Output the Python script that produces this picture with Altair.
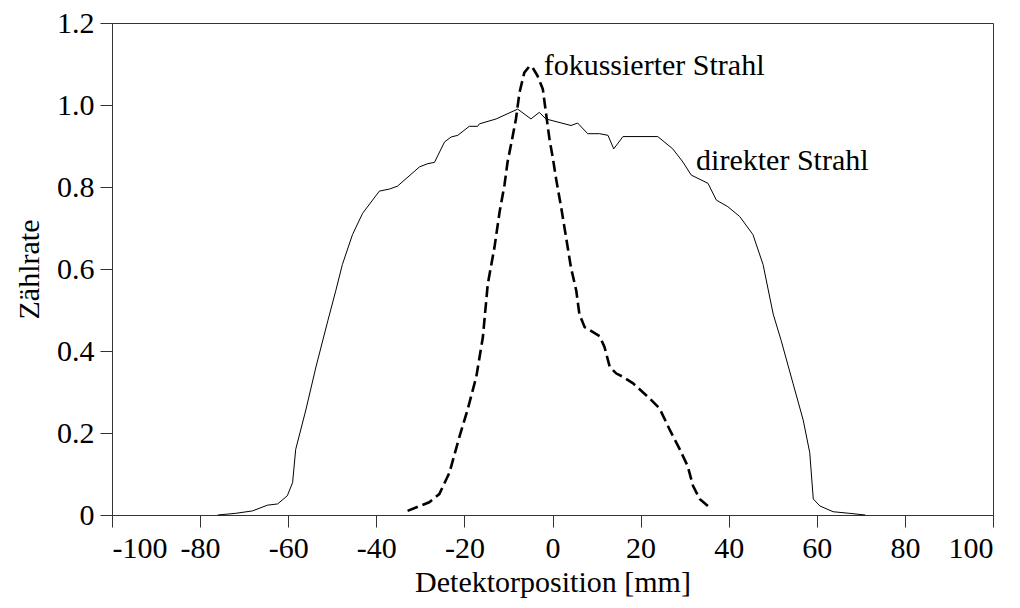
import altair as alt
import pandas as pd

# Direct beam profile (solid line)
direct_x = [-76.0, -72.0, -68.1, -64.7, -62.4, -60.2, -59.0, -58.3, -56.0, -53.7,
            -51.0, -49.2, -47.7, -45.4, -43.1, -39.3, -37.0, -35.2, -30.2, -28.3,
            -26.8, -24.5, -23.0, -21.5, -18.9, -17.0, -16.6, -12.8, -7.9, -4.9,
            -3.0, -1.5, 4.2, 5.7, 8.0, 10.7, 12.6, 13.9, 16.0, 23.9,
            27.3, 29.6, 31.5, 35.3, 37.2, 39.8, 42.5, 45.5, 47.8, 50.1,
            51.9, 54.6, 56.9, 58.4, 59.2, 60.7, 63.7, 67.5, 71.0]
direct_y = [0.000, 0.004, 0.010, 0.024, 0.027, 0.047, 0.079, 0.160, 0.256, 0.361,
            0.474, 0.547, 0.611, 0.684, 0.736, 0.790, 0.795, 0.802, 0.849, 0.857,
            0.860, 0.910, 0.922, 0.926, 0.948, 0.948, 0.954, 0.966, 0.990, 0.966,
            0.982, 0.966, 0.950, 0.956, 0.930, 0.930, 0.926, 0.893, 0.923, 0.923,
            0.893, 0.861, 0.829, 0.809, 0.768, 0.752, 0.728, 0.684, 0.611, 0.490,
            0.426, 0.321, 0.232, 0.152, 0.039, 0.022, 0.008, 0.004, 0.000]

# Focused beam profile (dashed line)
focus_x = [-32.9, -28.0, -25.7, -23.4, -21.1, -19.3, -17.3, -15.8, -14.7, -13.2,
           -12.0, -10.9, -10.2, -9.0, -8.3, -7.5, -6.4, -5.2, -4.5, -3.4,
           -2.2, -1.5, -0.7, 0.1, 0.8, 2.0, 3.1, 4.2, 5.4, 6.1,
           7.3, 9.2, 10.7, 11.8, 13.0, 14.5, 16.0, 18.3, 22.0, 24.3,
           26.6, 28.9, 30.7, 31.9, 33.4, 36.0]
focus_y = [0.010, 0.031, 0.051, 0.103, 0.192, 0.256, 0.337, 0.434, 0.563, 0.651,
           0.740, 0.805, 0.861, 0.926, 0.966, 1.030, 1.079, 1.095, 1.091, 1.071,
           1.039, 0.982, 0.918, 0.869, 0.821, 0.748, 0.676, 0.603, 0.547, 0.490,
           0.458, 0.446, 0.436, 0.410, 0.361, 0.345, 0.337, 0.321, 0.285, 0.260,
           0.208, 0.160, 0.119, 0.071, 0.039, 0.015]

label_text = ["fokussierter Strahl", "direkter Strahl"]
label_x = [-2.0, 32.6]
label_y = [1.074, 0.842]

x_ticks = [-100, -80, -60, -40, -20, 0, 20, 40, 60, 80, 100]
y_ticks = [0, 0.2, 0.4, 0.6, 0.8, 1.0, 1.2]

FONT = "'Liberation Serif', 'Times New Roman', 'DejaVu Serif', serif"

direct = pd.DataFrame({"x": direct_x, "y": direct_y})
focus = pd.DataFrame({"x": focus_x, "y": focus_y})
labels = pd.DataFrame({"x": label_x, "y": label_y, "t": label_text})

x_enc = alt.X(
    "x:Q",
    scale=alt.Scale(domain=[-100, 100], nice=False, zero=False),
    axis=alt.Axis(title="Detektorposition [mm]", values=x_ticks,
                  labelExpr="'' + datum.value", labelPadding=6, titlePadding=4),
)
y_enc = alt.Y(
    "y:Q",
    scale=alt.Scale(domain=[0, 1.2], nice=False),
    axis=alt.Axis(title="Zählrate", values=y_ticks,
                  labelExpr="datum.value == 0 ? '0' : format(datum.value, '.1f')",
                  labelPadding=6, titlePadding=12),
)

solid = alt.Chart(direct).mark_line(color="black", strokeWidth=1).encode(x=x_enc, y=y_enc)
dashed = alt.Chart(focus).mark_line(
    color="black", strokeWidth=2.6, strokeDash=[11, 5]
).encode(x=x_enc, y=y_enc)
text = alt.Chart(labels).mark_text(
    align="left", baseline="alphabetic", font=FONT, fontSize=30, color="black"
).encode(x=x_enc, y=y_enc, text="t:N")

chart = (
    alt.layer(solid, dashed, text)
    .properties(
        width=881, height=492,
        autosize=alt.AutoSizeParams(type="none"),
        padding={"left": 112, "top": 23, "right": 27, "bottom": 93},
        background="white",
    )
    .configure_axis(
        labelFont=FONT, titleFont=FONT, labelFontSize=30, titleFontSize=30,
        titleFontWeight="normal", labelColor="black", titleColor="black",
        domainColor="#333333", tickColor="#333333", tickSize=12, grid=False,
    )
    .configure_view(stroke="#333333", strokeWidth=1)
)

chart.save("out.html", embed_options={"renderer": "svg", "actions": False})
